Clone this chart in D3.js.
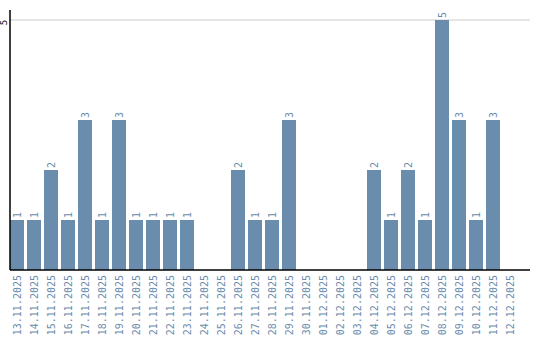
<!DOCTYPE html>
<html>
<head>
<meta charset="utf-8">
<script src="https://cdn.jsdelivr.net/npm/d3@7"></script>
<style>
  body { margin: 0; background: #fff; }
  text { font-family: "DejaVu Sans Mono", monospace; }
</style>
</head>
<body>
<svg id="chart" width="540" height="340"></svg>
<script>
"use strict"

// dates shown on the x axis
const days = ["13.11.2025","14.11.2025","15.11.2025","16.11.2025","17.11.2025","18.11.2025",
	"19.11.2025","20.11.2025","21.11.2025","22.11.2025","23.11.2025","24.11.2025","25.11.2025",
	"26.11.2025","27.11.2025","28.11.2025","29.11.2025","30.11.2025","01.12.2025","02.12.2025",
	"03.12.2025","04.12.2025","05.12.2025","06.12.2025","07.12.2025","08.12.2025","09.12.2025",
	"10.12.2025","11.12.2025","12.12.2025"]

// count per day
const counts = [1,1,2,1,3,1,3,1,1,1,1,0,0,2,1,1,3,0,0,0,0,2,1,2,1,5,3,1,3,0]

const yTicks = [5]

const svg = d3.select("#chart")
const color = "#6a8cad"
const m = {left: 10, top: 20, bottom: 270, right: 530}

const x = d3.scaleBand()
	.domain(days)
	.range([m.left, m.left + 17 * days.length - 3])
	.paddingInner(3 / 17)
	.paddingOuter(0)

const y = d3.scaleLinear().domain([0, 5]).range([m.bottom, m.top])

// gridline
svg.append("g")
	.selectAll("line")
	.data(yTicks)
	.join("line")
	.attr("x1", m.left).attr("x2", m.right)
	.attr("y1", d => y(d)).attr("y2", d => y(d))
	.attr("stroke", "#cccccc")

// bars
const data = days.map((d, i) => ({day: d, value: counts[i]}))
svg.selectAll(".bar")
	.data(data.filter(d => d.value > 0))
	.join("rect")
	.attr("class", "bar")
	.attr("fill", color)
	.attr("x", d => x(d.day))
	.attr("y", d => y(d.value))
	.attr("width", x.bandwidth())
	.attr("height", d => m.bottom - y(d.value))

// value labels
svg.selectAll(".val")
	.data(data.filter(d => d.value > 0))
	.join("text")
	.attr("class", "val")
	.attr("transform", d => "translate(" + (x(d.day) + x.bandwidth() / 2 + 3.5) + "," + (y(d.value) - 2) + ") rotate(-90)")
	.attr("fill", color)
	.style("font-size", "10px")
	.text(d => d.value)

// y axis
const yAxis = svg.append("g")
	.attr("transform", "translate(" + m.left + ",0)")
	.call(d3.axisLeft(y).tickValues(yTicks).tickFormat(d3.format("d")).tickSize(0).tickPadding(0))
yAxis.select(".domain").remove()
yAxis.append("line")
	.attr("x1", 0).attr("x2", 0)
	.attr("y1", 10).attr("y2", m.bottom)
	.attr("stroke", "#000").attr("stroke-width", 1.5)
yAxis.selectAll(".tick text")
	.attr("x", 0).attr("dy", 0)
	.attr("transform", "translate(-3,2) rotate(-90)")
	.style("text-anchor", "middle")
	.style("font-size", "9px")
	.attr("fill", "#000")

// x axis
const xAxis = svg.append("g")
	.attr("transform", "translate(0," + m.bottom + ")")
	.call(d3.axisBottom(x).tickSize(0).tickPadding(0))
xAxis.select(".domain").remove()
xAxis.append("line")
	.attr("x1", m.left).attr("x2", m.right)
	.attr("y1", 0).attr("y2", 0)
	.attr("stroke", "#000").attr("stroke-width", 1.5)
xAxis.selectAll(".tick text")
	.attr("y", 0).attr("dy", 0)
	.attr("transform", "translate(4,5) rotate(-90)")
	.style("text-anchor", "end")
	.style("font-size", "10px")
	.attr("fill", color)
</script>
</body>
</html>
